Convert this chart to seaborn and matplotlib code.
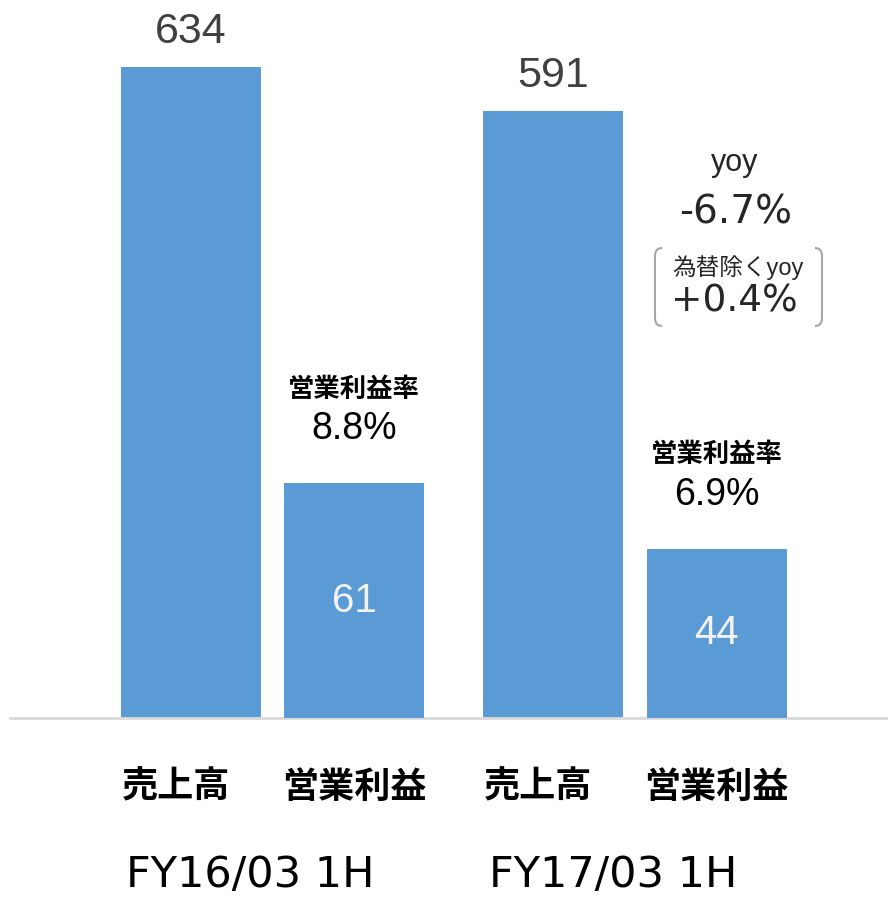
import numpy as np
import pandas as pd
import matplotlib.pyplot as plt
from matplotlib.path import Path
from matplotlib.patches import PathPatch
import seaborn as sns

# data
periods = ["FY16/03 1H", "FY17/03 1H"]
metric_labels = ["売上高", "営業利益"]
sales = [634, 591]
profit = [61, 44]
margin = ["8.8%", "6.9%"]
yoy_label = "yoy"
yoy_value = "-6.7%"
yoy_fx_label = "為替除くyoy"
yoy_fx_value = "+0.4%"

BAR = "#5b9bd5"
LATIN = ["Liberation Sans", "Noto Sans CJK JP"]
WIDE = ["DejaVu Sans"]
CJK = ["Noto Sans CJK JP", "Liberation Sans"]

sns.set_theme(style="white")
plt.rcParams["font.family"] = LATIN

df = pd.DataFrame({"period": periods, "sales": sales, "profit": profit})
offset = 0.225
df["x_sales"] = np.arange(len(df)) - offset
df["x_profit"] = np.arange(len(df)) + offset

fig = plt.figure(figsize=(8.88, 8.98), dpi=100)
ax = fig.add_axes([10 / 888, 180 / 898, 878 / 888, 718 / 898])
ax2 = ax.twinx()

sns.barplot(data=df, x="x_sales", y="sales", native_scale=True, width=0.386,
            color=BAR, saturation=1, errorbar=None, linewidth=0, ax=ax)
sns.barplot(data=df, x="x_profit", y="profit", native_scale=True, width=0.386,
            color=BAR, saturation=1, errorbar=None, linewidth=0, ax=ax2)

ax.set_xlim(-0.7241, 1.6979)
ax.set_ylim(0, 699.2)
ax2.set_ylim(0, 186.4)

for a in (ax, ax2):
    a.set_xticks([])
    a.set_yticks([])
    a.set_xlabel("")
    a.set_ylabel("")
    for side in ["top", "left", "right"]:
        a.spines[side].set_visible(False)
ax.spines["bottom"].set_color("#d9d9d9")
ax.spines["bottom"].set_linewidth(2)
ax2.spines["bottom"].set_visible(False)

pt = 0.72  # px -> points at dpi 100

for _, r in df.iterrows():
    # sales value above bar
    ax.annotate(f"{r['sales']}", (r["x_sales"], r["sales"]), xytext=(0, 35 * pt),
                textcoords="offset points", ha="center", va="center",
                fontsize=31, color="#404040")
    # profit value inside bar
    ax2.annotate(f"{r['profit']}", (r["x_profit"], r["profit"] / 2),
                 ha="center", va="center", fontsize=29, color="#f2f2f2")

for i, r in df.iterrows():
    ax2.annotate("営業利益率", (r["x_profit"], r["profit"]), xytext=(0, 94 * pt),
                 textcoords="offset points", ha="center", va="center",
                 fontsize=19, fontweight="bold", family=CJK, color="black")
    ax2.annotate(margin[i], (r["x_profit"], r["profit"]), xytext=(0, 54 * pt),
                 textcoords="offset points", ha="center", va="center",
                 fontsize=27, color="black")

# category labels below axis
for i, r in df.iterrows():
    ax.annotate(metric_labels[0], (r["x_sales"], 0), xytext=(-15 * pt, -69 * pt),
                textcoords="offset points", ha="center", va="center",
                fontsize=26, fontweight="bold", family=CJK, color="black")
    ax.annotate(metric_labels[1], (r["x_profit"], 0), xytext=(0, -69 * pt),
                textcoords="offset points", ha="center", va="center",
                fontsize=26, fontweight="bold", family=CJK, color="black")
    ax.annotate(r["period"], (i, 0), xytext=(-22 * pt, -157 * pt),
                textcoords="offset points", ha="center", va="center",
                fontsize=31, family=WIDE, color="black")

# yoy note
def fpos(x, y):
    return x / 888, 1 - y / 898

fig.text(*fpos(735, 163), yoy_label, ha="center", va="center", fontsize=22)
fig.text(*fpos(736, 212), yoy_value, ha="center", va="center", fontsize=28,
         family=WIDE)
fig.text(*fpos(738, 268), yoy_fx_label, ha="center", va="center", fontsize=17,
         family=LATIN)
fig.text(*fpos(734, 302), yoy_fx_value, ha="center", va="center", fontsize=27,
         family=WIDE)

def bracket(x_edge, x_tip, y0, y1):
    verts = [fpos(x_tip, y0), fpos(x_edge, y0), fpos(x_edge, y0 + 8),
             fpos(x_edge, y1 - 8), fpos(x_edge, y1), fpos(x_tip, y1)]
    codes = [Path.MOVETO, Path.CURVE3, Path.CURVE3, Path.LINETO,
             Path.CURVE3, Path.CURVE3]
    fig.add_artist(PathPatch(Path(verts, codes), transform=fig.transFigure,
                             fill=False, edgecolor="#a6a6a6", linewidth=1.5))

bracket(655, 662, 248, 326)
bracket(822, 815, 248, 326)

fig.savefig("out.png", dpi=100)
